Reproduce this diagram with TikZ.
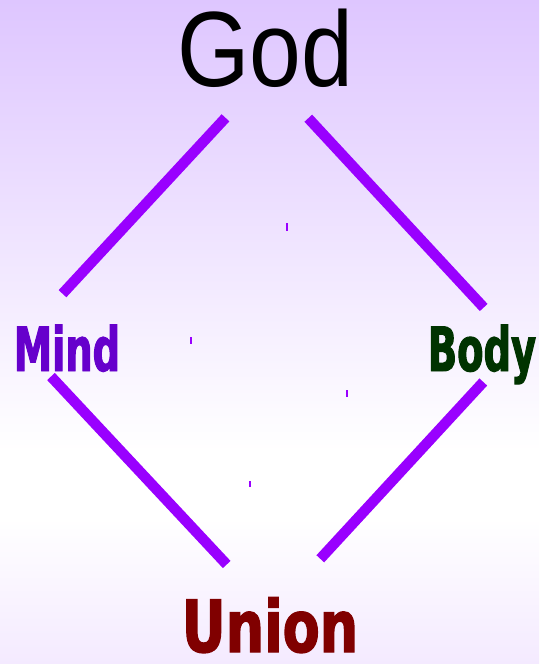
\documentclass[tikz,border=0pt]{standalone}
\usepackage{fontspec}
\usepackage{tikz}
\usetikzlibrary{positioning}
\setmainfont{Liberation Sans}
\newfontfamily\godfont{Liberation Sans}[FakeStretch=0.87]
\newfontfamily\heavyfont{DejaVu Sans}[FakeStretch=0.63,FakeBold=1.6]
\newfontfamily\heavywide{DejaVu Sans}[FakeStretch=0.75,FakeBold=1.8]
\definecolor{linepurple}{RGB}{153,0,255}
\definecolor{mindpurple}{RGB}{102,0,204}
\definecolor{bodygreen}{RGB}{0,51,0}
\definecolor{unionred}{RGB}{128,0,0}
\definecolor{bgtop}{RGB}{222,198,255}
\definecolor{bgbot}{RGB}{244,234,255}
\pgfdeclareverticalshading{backdrop}{100bp}{color(0bp)=(bgbot); color(25bp)=(bgbot); color(36bp)=(white); color(41bp)=(white); color(75bp)=(bgtop); color(100bp)=(bgtop)}

\begin{document}
\begin{tikzpicture}[
  x=1pt, y=-1pt,
  word/.style={inner sep=0pt, anchor=base},
  label/.style={word, font=\heavyfont\bfseries\fontsize{61}{61}\selectfont},
  link/.style={draw=linepurple, line width=10.5pt, line cap=butt},
  tick/.style={draw=linepurple, line width=1.6pt},
]
\useasboundingbox (0,0) rectangle (539,664);
\shade[shading=backdrop] (0,0) rectangle (539,664);
\node[word, font=\godfont\fontsize{107}{107}\selectfont] (god) at (265,86) {God};
\node[label, text=mindpurple] (mind) at (67,371) {Mind};
\node[label, text=bodygreen] (body) at (482,371) {Body};
\node[word, font=\heavywide\bfseries\fontsize{72}{72}\selectfont, text=unionred] (union) at (270,652) {Union};
% line ends
\coordinate (god-l) at (225.5,117.8);
\coordinate (god-r) at (308.3,118.2);
\coordinate (mind-t) at (62.5,293.7);
\coordinate (mind-b) at (51,376.5);
\coordinate (body-t) at (483.7,307.5);
\coordinate (body-b) at (483.3,382);
\coordinate (union-l) at (226.7,564.5);
\coordinate (union-r) at (320.3,558.8);
% links
\draw[link] (god-l) -- (mind-t);
\draw[link] (god-r) -- (body-t);
\draw[link] (mind-b) -- (union-l);
\draw[link] (body-b) -- (union-r);
% small marks
\draw[tick] (287,223) -- ++(0,8);
\draw[tick] (191,337) -- ++(0,7);
\draw[tick] (347,390) -- ++(0,7);
\draw[tick] (250,481) -- ++(0,6);
\end{tikzpicture}
\end{document}
